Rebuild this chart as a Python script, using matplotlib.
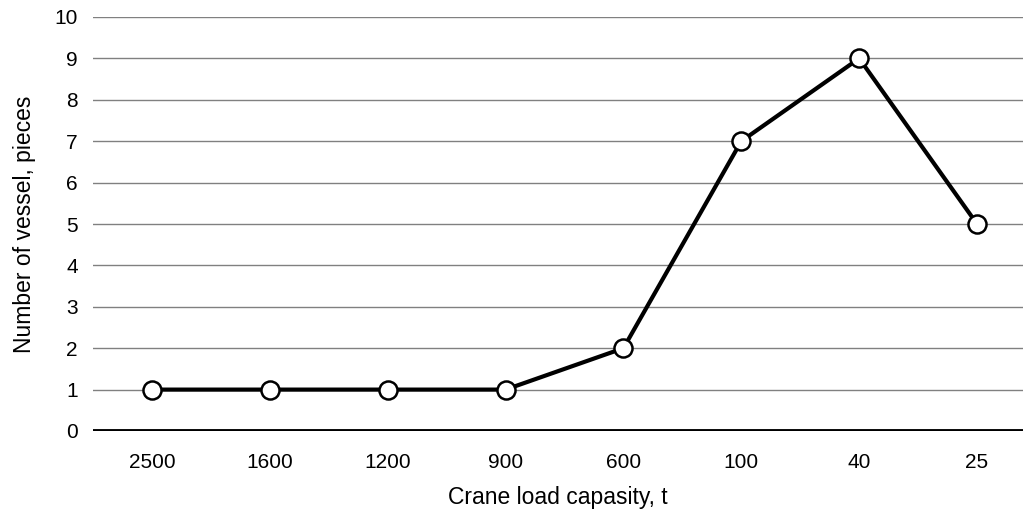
import matplotlib.pyplot as plt
import numpy as np

# crane load capacity categories and vessel counts
capacity = ["2500", "1600", "1200", "900", "600", "100", "40", "25"]
vessels = [1, 1, 1, 1, 2, 7, 9, 5]

plt.rcParams["font.family"] = ["Liberation Sans", "DejaVu Sans"]

fig = plt.figure(figsize=(10.23, 5.21), dpi=100)
ax = fig.add_axes([93/1023, 90/521, 1 - 93/1023, (431 - 17)/521])

x = np.arange(len(capacity))

for y in range(1, 11):
    ax.axhline(y, color="#808080", lw=1.0, zorder=1)
ax.axhline(0, color="black", lw=3.5, zorder=2)

ax.plot(x, vessels, color="black", lw=3.0, marker="o", markersize=13,
        markerfacecolor="white", markeredgecolor="black", markeredgewidth=1.8, zorder=3)

ax.set_xlim(-0.5, 7.39)
ax.set_ylim(0, 10)
ax.set_xticks(x)
ax.set_xticklabels(capacity)
ax.set_yticks(range(0, 11))
ax.tick_params(length=0, labelsize=15)
ax.tick_params(axis="x", pad=16)
ax.tick_params(axis="y", pad=11)
for s in ax.spines.values():
    s.set_visible(False)

ax.set_xlabel("Crane load capasity, t", fontsize=16.5, labelpad=10)
ax.set_ylabel("Number of vessel, pieces", fontsize=16.5, labelpad=13)

fig.savefig("out.png", dpi=100)
